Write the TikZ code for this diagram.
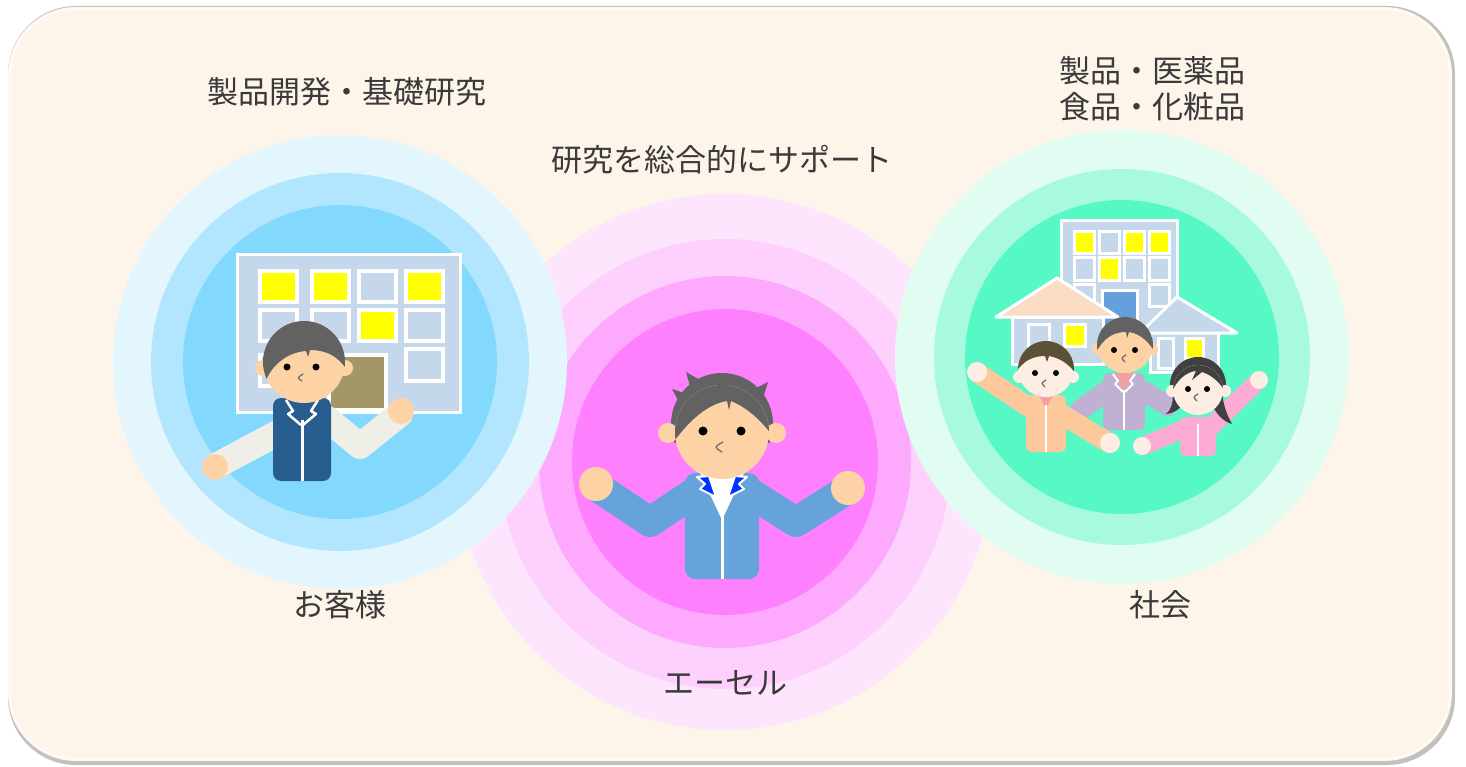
\documentclass[tikz,border=0pt]{standalone}
\usepackage{fontspec}
\setmainfont{Noto Sans CJK JP}
\usetikzlibrary{positioning}

\definecolor{bgcream}{HTML}{FEF5EA}
\definecolor{rimgray}{HTML}{A9A5A1}
\definecolor{blueA}{HTML}{E3F6FE}
\definecolor{blueB}{HTML}{B2E6FE}
\definecolor{blueC}{HTML}{82D9FD}
\definecolor{pinkA}{HTML}{FDE5FE}
\definecolor{pinkB}{HTML}{FDD0FE}
\definecolor{pinkC}{HTML}{FDA9FD}
\definecolor{pinkD}{HTML}{FF80FF}
\definecolor{greenA}{HTML}{E1FDF2}
\definecolor{greenB}{HTML}{A8FADF}
\definecolor{greenC}{HTML}{56F9C6}
\definecolor{panel}{HTML}{C5D7EA}
\definecolor{lamp}{HTML}{FFFF00}
\definecolor{board}{HTML}{A39667}
\definecolor{door}{HTML}{64A0DC}
\definecolor{roofpeach}{HTML}{FBDCC4}
\definecolor{skin}{HTML}{FDD3A6}
\definecolor{paleskin}{HTML}{FDEDE2}
\definecolor{hairgray}{HTML}{626262}
\definecolor{hairbrown}{HTML}{5B5136}
\definecolor{hairdark}{HTML}{404040}
\definecolor{navy}{HTML}{285D8F}
\definecolor{sleeve}{HTML}{EFEFE8}
\definecolor{jacket}{HTML}{66A3DB}
\definecolor{lapel}{HTML}{0033FF}
\definecolor{lavender}{HTML}{C0B1D3}
\definecolor{peach}{HTML}{FDC89C}
\definecolor{pinkwear}{HTML}{FDAAD5}
\definecolor{rose}{HTML}{F4A0A0}
\definecolor{nosegray}{HTML}{707070}
\definecolor{textgray}{HTML}{3A3A3A}

\begin{document}
\begin{tikzpicture}[x=1pt,y=-1pt,
  caption/.style={font=\fontsize{31}{36}\selectfont,text=textgray,inner sep=0pt,align=center},
  frame/.style={draw=white,line width=3pt},
  win/.style={draw=white,line width=3.5pt,fill=panel},
  limb/.style={line cap=round,line join=round},
  eye/.style={fill=black},
  nose/.style={draw=nosegray,line width=1.3pt,line cap=round}
]
\useasboundingbox (0,0) rectangle (1466,767);

% backing card
\fill[rimgray!70,rounded corners=68] (8,6) rectangle (1455,765);
\fill[bgcream,rounded corners=68] (8,7) rectangle (1452,761);
\draw[white,line width=1.2pt,rounded corners=66] (10,9) rectangle (1450,759);

% rings
\fill[pinkA] (725,462) circle (268);
\fill[pinkB] (725,464) circle (225);
\fill[pinkC] (725,462) circle (186);
\fill[pinkD] (725,462) circle (153);

\fill[blueA] (340,362) circle (227);
\fill[blueB] (340,362) circle (189);
\fill[blueC] (340,362) circle (157);

\fill[greenA] (1122,357) circle (227);
\fill[greenB] (1122,357) circle (188);
\fill[greenC] (1122,357) circle (157);

% captions
\node[caption] (research) at (347,92) {製品開発・基礎研究};
\node[caption] (support) at (722,160) {研究を総合的にサポート};
\node[caption] (fields) at (1152,89) {製品・医薬品\\食品・化粧品};
\node[caption] (client) at (340,605) {お客様};
\node[caption] (aesel) at (725,683) {エーセル};
\node[caption] (society) at (1160,605) {社会};

% client: board with windows
\draw[frame,fill=panel] (237,255) rectangle (460,412);
\foreach \x/\c in {260/lamp,312/lamp,359/panel,406/lamp}
  \draw[win,fill=\c] (\x,271) rectangle ++(37,31);
\foreach \x/\c in {260/panel,312/panel,359/lamp,406/panel}
  \draw[win,fill=\c] (\x,310) rectangle ++(37,31);
\draw[win] (260,355) rectangle ++(37,31);
\draw[win] (406,349) rectangle ++(37,32);
\draw[win,fill=board] (329,355) rectangle (386,410);

% client: person
\draw[limb,line width=26pt,sleeve] (287,428) -- (216,466);
\draw[limb,line width=26pt,sleeve] (326,418) -- (360,446) -- (400,414);
\fill[skin] (215,467) circle (13) (401,411) circle (13);
\fill[navy,rounded corners=8] (273,398) rectangle (331,481);
\draw[white,line width=2.5pt,line join=round] (286,400) -- (293,411) -- (288,414) -- (301,425);
\draw[white,line width=2.5pt,line join=round] (318,400) -- (311,411) -- (316,414) -- (303,425);
\draw[white,line width=3pt] (302,420) -- (302,481);
\fill[skin] (263,368) circle (8) (345,368) circle (8);
\fill[skin] (304,362) circle (41);
\begin{scope}
  \clip (304,362) circle (41);
  \fill[hairgray] (250,395) -- (266,380) .. controls (274,362) and (290,352) .. (306,351)
    -- (308,357) -- (310,350) .. controls (326,350) and (338,356) .. (347,370)
    -- (360,370) -- (360,300) -- (250,300) -- cycle;
\end{scope}
\fill[eye] (287,367) circle (3.5) (316,367) circle (3.5);
\draw[nose] (303,374) .. controls (297,378) .. (302,381);

% aesel: person
\draw[limb,line width=30pt,jacket] (692,494) -- (650,522) -- (596,486);
\draw[limb,line width=30pt,jacket] (752,494) -- (796,522) -- (848,489);
\fill[skin] (596,484) circle (17) (848,488) circle (17);
\fill[jacket,rounded corners=10] (685,473) rectangle (759,579);
\fill[white] (700,473) -- (744,473) -- (722,520) -- cycle;
\draw[white,line width=3pt] (722,512) -- (722,579);
\filldraw[fill=lapel,draw=white,line width=2pt,line join=round]
  (697,477) -- (709,476) -- (716,497) -- (700,489) -- (705,484) -- cycle;
\filldraw[fill=lapel,draw=white,line width=2pt,line join=round]
  (747,477) -- (735,476) -- (728,497) -- (744,489) -- (739,484) -- cycle;
\begin{scope}
  \clip (660,360) rectangle (785,442);
  \fill[hairgray] (722,424) circle (51);
\end{scope}
\fill[hairgray] (686,372) -- (700,380) -- (690,386) -- cycle;
\fill[hairgray] (672,389) -- (684,393) -- (679,402) -- cycle;
\fill[hairgray] (768,382) -- (756,388) -- (763,398) -- cycle;
\fill[skin] (668,433) circle (10) (776,433) circle (10);
\fill[skin] (722,432) circle (47);
\begin{scope}
  \clip (722,432) circle (47);
  \fill[hairgray] (668,450) .. controls (688,420) and (708,404) .. (727,401)
    -- (729,410) -- (731,401) .. controls (748,408) and (764,422) .. (778,444)
    -- (780,370) -- (665,370) -- cycle;
\end{scope}
\fill[eye] (703,431) circle (4.5) (741,431) circle (4.5);
\draw[nose] (723,442) .. controls (714,447) .. (722,452);

% society: buildings
\draw[frame,fill=panel] (1061,221) rectangle (1177,335);
\foreach \x/\c in {1074/lamp,1099/panel,1124/lamp,1149/lamp}
  \draw[frame,fill=\c] (\x,232) rectangle ++(20,22);
\foreach \x/\c in {1074/panel,1099/lamp,1124/panel,1149/panel}
  \draw[frame,fill=\c] (\x,258) rectangle ++(20,22);
\draw[frame,fill=panel] (1074,284) rectangle ++(20,22);
\draw[frame,fill=panel] (1149,284) rectangle ++(20,22);
\draw[frame,fill=door] (1102,290) rectangle (1137,335);

\draw[frame,fill=panel] (1012,317) rectangle (1103,364);
\draw[frame,fill=panel] (1028,324) rectangle (1049,346);
\draw[frame,fill=lamp] (1064,324) rectangle (1085,346);
\draw[frame,fill=roofpeach,line join=round] (1057,278) -- (1118,317) -- (996,317) -- cycle;

\draw[frame,fill=panel] (1150,332) rectangle (1218,372);
\draw[frame,fill=panel] (1158,338) rectangle (1173,368);
\draw[frame,fill=lamp] (1185,338) rectangle (1203,358);
\draw[frame,fill=panel,line join=round] (1177,297) -- (1237,333) -- (1140,333) -- cycle;

% society: middle person
\draw[limb,line width=20pt,lavender] (1108,390) -- (1080,410);
\draw[limb,line width=20pt,lavender] (1142,390) -- (1168,406);
\fill[lavender,rounded corners=6] (1103,373) rectangle (1145,430);
\fill[rose] (1115,373) -- (1133,373) -- (1124,392) -- cycle;
\draw[white,line width=2pt,line join=round] (1113,374) -- (1118,381) -- (1115,384) -- (1123,392);
\draw[white,line width=2pt,line join=round] (1135,374) -- (1130,381) -- (1133,384) -- (1125,392);
\draw[white,line width=2.5pt] (1124,390) -- (1124,430);
\fill[skin] (1098,349) circle (6) (1152,349) circle (6);
\fill[skin] (1125,345) circle (28);
\begin{scope}
  \clip (1125,345) circle (28);
  \fill[hairgray] (1095,354) .. controls (1104,337) and (1114,332) .. (1126,332)
    -- (1127,338) -- (1129,332) .. controls (1141,334) and (1149,342) .. (1156,354)
    -- (1156,310) -- (1094,310) -- cycle;
\end{scope}
\fill[eye] (1114,350) circle (3) (1135,350) circle (3);
\draw[nose] (1126,355) .. controls (1121,358) .. (1125,362);

% society: left person
\draw[limb,line width=20pt,peach] (1036,412) -- (978,373);
\draw[limb,line width=20pt,peach] (1058,412) -- (1109,443);
\fill[paleskin] (977,372) circle (10) (1110,443) circle (10);
\fill[peach,rounded corners=6] (1026,395) rectangle (1066,452);
\fill[rose] (1039,395) -- (1053,395) -- (1046,409) -- cycle;
\draw[white,line width=2.5pt] (1046,405) -- (1046,452);
\fill[paleskin] (1019,377) circle (6) (1073,377) circle (6);
\fill[paleskin] (1046,369) circle (28);
\begin{scope}
  \clip (1046,369) circle (28);
  \fill[hairbrown] (1016,372) .. controls (1024,360) and (1034,356) .. (1045,356)
    -- (1047,362) -- (1049,356) .. controls (1060,358) and (1069,364) .. (1076,374)
    -- (1076,330) -- (1016,330) -- cycle;
\end{scope}
\fill[eye] (1035,373) circle (3) (1056,373) circle (3);
\draw[nose] (1046,380) .. controls (1041,383) .. (1045,387);

% society: girl
\draw[limb,line width=18pt,pinkwear] (1186,428) -- (1143,446);
\draw[limb,line width=18pt,pinkwear] (1210,428) -- (1258,381);
\fill[paleskin] (1142,446) circle (9) (1259,380) circle (9);
\fill[pinkwear,rounded corners=6] (1180,417) rectangle (1216,456);
\draw[white,line width=2.5pt] (1198,424) -- (1198,456);
\fill[hairdark] (1198,385) circle (28);
\fill[hairdark] (1173,392) .. controls (1173,404) and (1171,410) .. (1166,414)
  .. controls (1177,413) and (1184,405) .. (1186,398) -- cycle;
\fill[hairdark] (1222,394) .. controls (1224,408) and (1228,417) .. (1232,424)
  .. controls (1221,421) and (1213,410) .. (1211,400) -- cycle;
\fill[paleskin] (1172,391) circle (6) (1225,391) circle (6);
\fill[paleskin] (1198,390) circle (25);
\begin{scope}
  \clip (1198,390) circle (25);
  \fill[hairdark] (1170,396) .. controls (1176,380) and (1186,372) .. (1196,371)
    -- (1192,380) -- (1202,372) .. controls (1212,375) and (1222,384) .. (1226,394)
    -- (1226,355) -- (1170,355) -- cycle;
\end{scope}
\fill[eye] (1188,389) circle (3) (1207,389) circle (3);
\draw[nose] (1198,394) .. controls (1193,397) .. (1197,401);
\end{tikzpicture}
\end{document}
